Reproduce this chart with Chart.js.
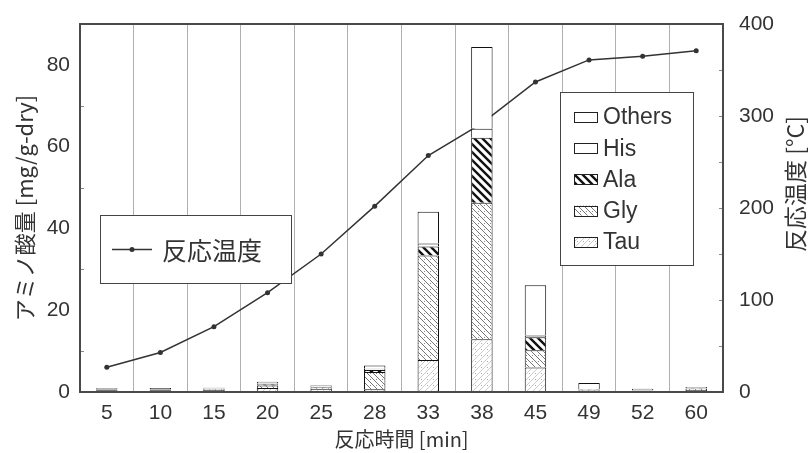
<!DOCTYPE html>
<html>
<head>
<meta charset="utf-8">
<script src="https://cdn.jsdelivr.net/npm/chart.js@4.4.1/dist/chart.umd.min.js"></script>
<style>
  html, body { margin: 0; padding: 0; background: #fff; }
  #wrap { width: 808px; height: 453px; }
</style>
</head>
<body>
<div id="wrap"><canvas id="chart" width="808" height="453"></canvas></div>
<script>
// reaction time [min]
const times  = ['5', '10', '15', '20', '25', '28', '33', '38', '45', '49', '52', '60'];
// amino acids [mg/g-dry], stacked bottom -> top
const tau    = [0.4, 0.4, 0.5, 1.0, 0.8, 0.7, 7.8, 12.9, 6.0, 0.3, 0.2, 0.5];
const gly    = [0.2, 0.2, 0.2, 0.6, 0.3, 4.2, 25.6, 33.4, 4.2, 0.2, 0.1, 0.3];
const ala    = [0.05, 0.05, 0.1, 0.3, 0.1, 0.5, 2.2, 15.9, 3.2, 0.1, 0.05, 0.1];
const his    = [0.05, 0.05, 0.05, 0.2, 0.1, 0.3, 0.7, 2.2, 0.4, 0.1, 0.05, 0.1];
const others = [0.2, 0.25, 0.2, 0.4, 0.3, 0.8, 7.8, 20.0, 12.3, 1.5, 0.4, 0.2];
// reaction temperature [°C]
const temp   = [27, 43, 71, 108, 150, 202, 257, 292, 337, 361, 365, 371];

const leftTicks  = [0, 20, 40, 60, 80];
const rightTicks = [0, 100, 200, 300, 400];

const FONT = "'Liberation Sans', 'Noto Sans CJK JP', sans-serif";
const JP   = "'Noto Sans CJK JP', 'Liberation Sans', sans-serif";
const INK  = '#333';

/* -------- hatch patterns -------- */

function makePattern(kind) {
  const c = document.createElement('canvas');
  const s = kind === 'ala' ? 8 : 6;
  c.width = s; c.height = s;
  const g = c.getContext('2d');
  g.fillStyle = '#fff';
  g.fillRect(0, 0, s, s);
  if (kind === 'ala') {
    g.strokeStyle = '#111'; g.lineWidth = 2.4;
    back(g, s);
  } else if (kind === 'gly') {
    g.strokeStyle = '#666'; g.lineWidth = 0.9;
    back(g, s);
    g.fillStyle = '#888'; g.fillRect(4, 1, 1, 1);
  } else if (kind === 'tau') {
    g.strokeStyle = '#b4b4b4'; g.lineWidth = 0.7;
    g.beginPath();
    g.moveTo(0, s); g.lineTo(s, 0);
    g.moveTo(-1, 1); g.lineTo(1, -1);
    g.moveTo(s - 1, s + 1); g.lineTo(s + 1, s - 1);
    g.stroke();
    g.fillStyle = '#aaa'; g.fillRect(1, 1, 1, 1);
  }
  return g.createPattern(c, 'repeat');
}

function back(g, s) {
  g.beginPath();
  g.moveTo(0, 0); g.lineTo(s, s);
  g.moveTo(-1, s - 1); g.lineTo(1, s + 1);
  g.moveTo(s - 1, -1); g.lineTo(s + 1, 1);
  g.stroke();
}

const FILLS = {
  Tau: makePattern('tau'),
  Gly: makePattern('gly'),
  Ala: makePattern('ala'),
  His: '#fff',
  Others: '#fff',
};

function barSet(label, data) {
  return {
    type: 'bar', label, data, yAxisID: 'y', order: 1,
    backgroundColor: FILLS[label], borderColor: '#111', borderWidth: 1,
    barPercentage: 0.4, categoryPercentage: 1,
  };
}

/* -------- decorations: frame, inner ticks, legends, right title -------- */

const decor = {
  id: 'decor',
  afterDraw(chart) {
    const { ctx, chartArea: a, scales } = chart;
    ctx.save();

    // inward minor ticks
    ctx.strokeStyle = '#888'; ctx.lineWidth = 1;
    [10, 30, 50, 70].forEach(v => {
      const y = Math.round(scales.y.getPixelForValue(v)) + 0.5;
      ctx.beginPath(); ctx.moveTo(a.left, y); ctx.lineTo(a.left + 4, y); ctx.stroke();
    });
    [50, 100, 150, 200, 250, 300, 350].forEach(v => {
      const y = Math.round(scales.y2.getPixelForValue(v)) + 0.5;
      ctx.beginPath(); ctx.moveTo(a.right, y); ctx.lineTo(a.right - 4, y); ctx.stroke();
    });

    // frame
    ctx.strokeStyle = '#4a4a4a'; ctx.lineWidth = 2;
    ctx.strokeRect(a.left, a.top, a.right - a.left, a.bottom - a.top);

    // temperature legend
    ctx.fillStyle = '#fff'; ctx.strokeStyle = '#444'; ctx.lineWidth = 1;
    ctx.fillRect(100, 215, 191, 68);
    ctx.strokeRect(100.5, 215.5, 191, 68);
    ctx.strokeStyle = INK; ctx.lineWidth = 1.5;
    ctx.beginPath(); ctx.moveTo(112, 249.5); ctx.lineTo(152, 249.5); ctx.stroke();
    ctx.fillStyle = INK;
    ctx.beginPath(); ctx.arc(132, 249.5, 2.5, 0, Math.PI * 2); ctx.fill();
    ctx.font = `25px ${JP}`; ctx.textBaseline = 'middle'; ctx.textAlign = 'left';
    ctx.fillText('反応温度', 162, 250);

    // amino acid legend
    ctx.fillStyle = '#fff'; ctx.strokeStyle = '#444'; ctx.lineWidth = 1;
    ctx.fillRect(560, 92, 133, 173);
    ctx.strokeRect(560.5, 92.5, 133, 173);
    const order = ['Others', 'His', 'Ala', 'Gly', 'Tau'];
    ctx.font = `23px ${FONT}`;
    order.forEach((name, i) => {
      const y = 117 + i * 31.2;
      ctx.fillStyle = FILLS[name];
      ctx.fillRect(574, y - 5, 23, 10);
      ctx.strokeStyle = '#222'; ctx.lineWidth = 1;
      ctx.strokeRect(574.5, Math.round(y - 5) + 0.5, 23, 10);
      ctx.fillStyle = INK;
      ctx.fillText(name, 603, y + 1);
    });

    // right axis title
    ctx.translate(795, 184);
    ctx.rotate(-Math.PI / 2);
    ctx.textAlign = 'center';
    ctx.font = `23px ${JP}`;
    ctx.fillStyle = INK;
    ctx.fillText('反応温度 [°C]', 0, 0);

    ctx.restore();
  },
};

/* -------- chart -------- */

new Chart(document.getElementById('chart').getContext('2d'), {
  data: {
    labels: times,
    datasets: [
      barSet('Tau', tau),
      barSet('Gly', gly),
      barSet('Ala', ala),
      barSet('His', his),
      barSet('Others', others),
      {
        type: 'line', label: '反応温度', data: temp, yAxisID: 'y2', order: 2,
        borderColor: INK, borderWidth: 1.5, backgroundColor: INK,
        pointRadius: 2.5, pointBorderWidth: 0, tension: 0, fill: false,
      },
    ],
  },
  options: {
    responsive: false,
    animation: false,
    layout: { padding: { top: 24, left: 0, right: 0, bottom: 0 } },
    plugins: { legend: { display: false }, tooltip: { enabled: false } },
    scales: {
      x: {
        stacked: true,
        offset: true,
        grid: { offset: true, color: '#b0b0b0', lineWidth: 1, drawTicks: false },
        border: { display: false },
        ticks: { padding: 9, color: INK, font: { family: FONT, size: 21 } },
        title: {
          display: true, text: '反応時間 [min]', color: INK,
          font: { family: JP, size: 20 }, padding: { top: 0, bottom: 2 },
        },
        afterFit: s => { s.height = 61; s.paddingLeft = 0; s.paddingRight = 0; },
      },
      y: {
        position: 'left',
        stacked: true,
        min: 0, max: 90,
        afterBuildTicks: s => { s.ticks = leftTicks.map(v => ({ value: v })); },
        grid: { drawOnChartArea: false, drawTicks: false },
        border: { display: false },
        ticks: { padding: 10, color: INK, font: { family: FONT, size: 21 } },
        title: {
          display: true, text: 'アミノ酸量 [mg/g-dry]', color: INK,
          font: { family: JP, size: 22 }, padding: { top: 11, bottom: 0 },
        },
        afterFit: s => { s.width = 80; s.paddingTop = 0; s.paddingBottom = 0; },
      },
      y2: {
        position: 'right',
        min: 0, max: 400,
        afterBuildTicks: s => { s.ticks = rightTicks.map(v => ({ value: v })); },
        grid: { drawOnChartArea: false, drawTicks: false },
        border: { display: false },
        ticks: { padding: 16, color: INK, font: { family: FONT, size: 21 } },
        afterFit: s => { s.width = 85; s.paddingTop = 0; s.paddingBottom = 0; },
      },
    },
  },
  plugins: [decor],
});
</script>
</body>
</html>
